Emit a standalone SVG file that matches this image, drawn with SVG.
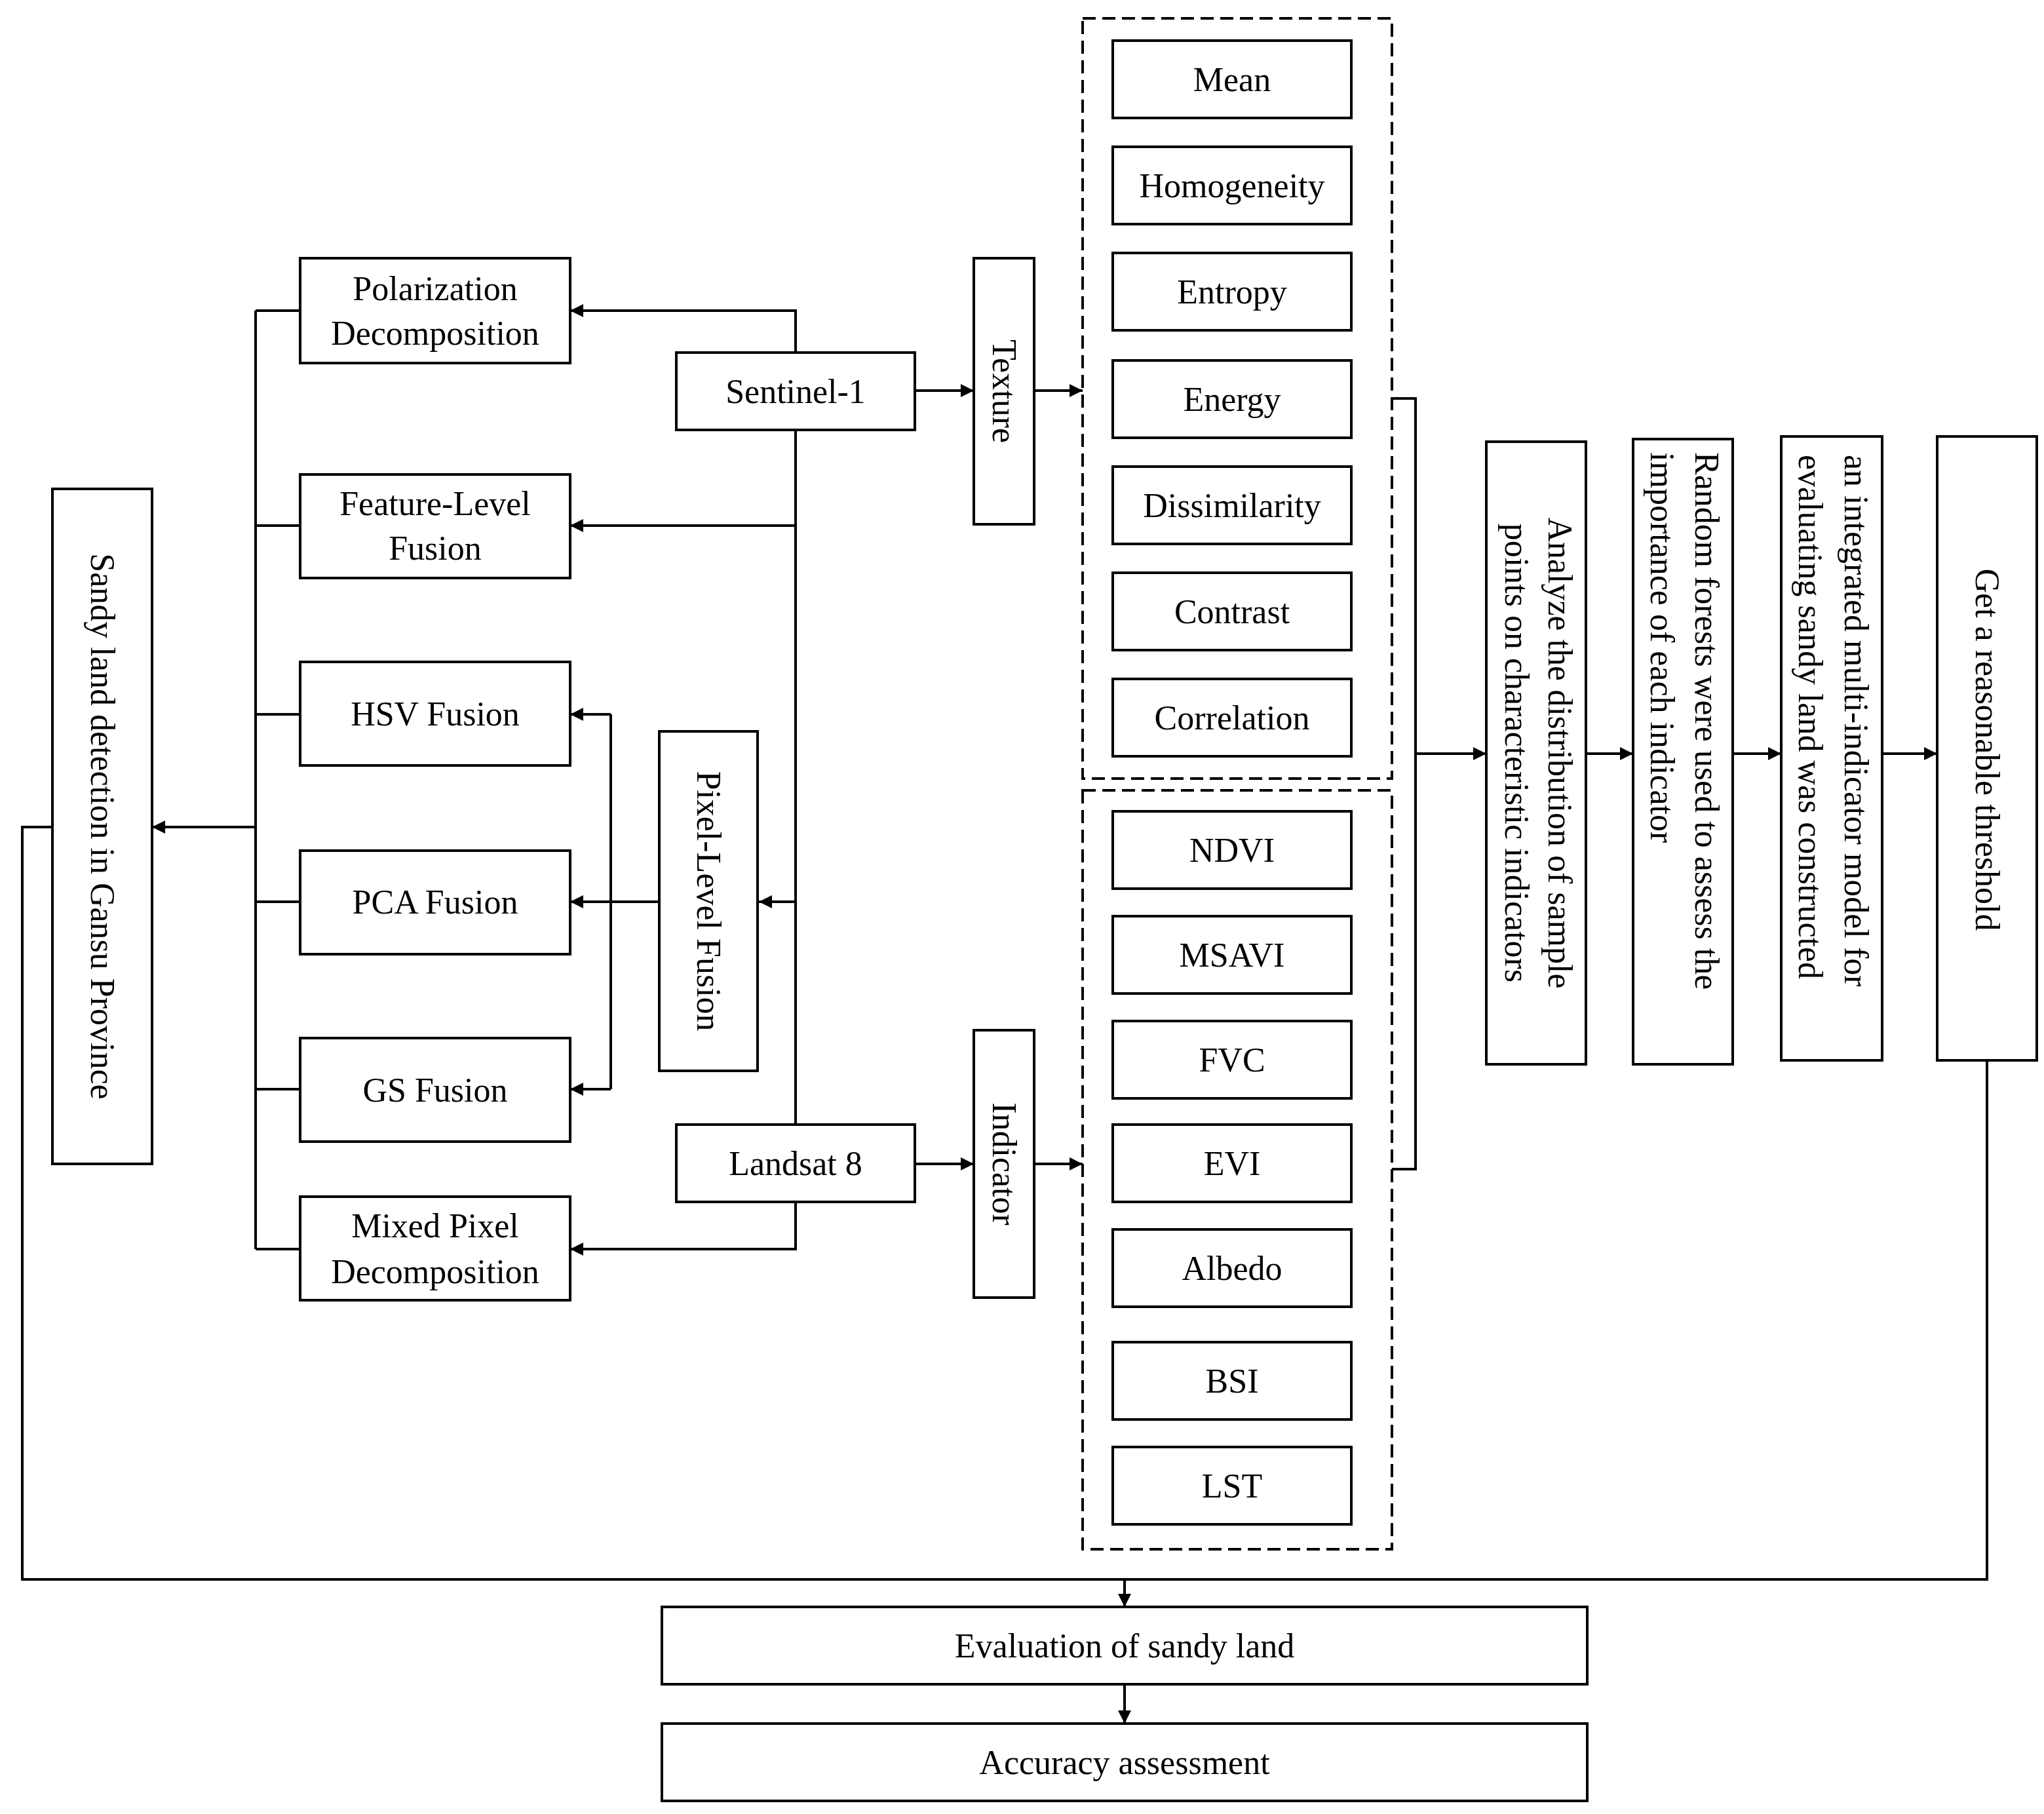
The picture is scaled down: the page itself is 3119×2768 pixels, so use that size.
<svg xmlns="http://www.w3.org/2000/svg" width="3119" height="2768" viewBox="0 0 3119 2768">
<style>
.b{fill:#fff;stroke:#000;stroke-width:4}
.d{fill:none;stroke:#000;stroke-width:4;stroke-dasharray:20,10}
.l{fill:none;stroke:#000;stroke-width:4}
text{font-family:"Liberation Serif","Times New Roman",serif;font-size:52px;fill:#000}
.c{text-anchor:middle;dominant-baseline:central}
.s{text-anchor:start;dominant-baseline:central}
</style>
<defs><marker id="a" viewBox="0 0 10 10" refX="10" refY="5" markerWidth="5" markerHeight="5" orient="auto" markerUnits="strokeWidth"><path d="M0,0L10,5L0,10z" fill="#000"/></marker></defs>
<rect width="3119" height="2768" fill="#fff"/>
<g id="dashed">
<rect class="d" x="1652" y="28" width="472" height="1160"/>
<rect class="d" x="1652" y="1206" width="472" height="1158"/>
</g>
<g id="connectors">
<path class="l" d="M390,474V1906M390,474H458M390,802H458M390,1090H458M390,1376H458M390,1662H458M390,1906H458"/>
<path class="l" d="M390,1262H232" marker-end="url(#a)"/>
<path class="l" d="M1214,538V474H870" marker-end="url(#a)"/>
<path class="l" d="M1214,656V1716"/>
<path class="l" d="M1214,802H870" marker-end="url(#a)"/>
<path class="l" d="M1214,1376H1158" marker-end="url(#a)"/>
<path class="l" d="M1214,1834V1906H870" marker-end="url(#a)"/>
<path class="l" d="M1006,1376H870" marker-end="url(#a)"/>
<path class="l" d="M932,1090V1662"/>
<path class="l" d="M932,1090H870" marker-end="url(#a)"/>
<path class="l" d="M932,1662H870" marker-end="url(#a)"/>
<path class="l" d="M1396,596H1486" marker-end="url(#a)"/>
<path class="l" d="M1578,596H1652" marker-end="url(#a)"/>
<path class="l" d="M1396,1776H1486" marker-end="url(#a)"/>
<path class="l" d="M1578,1776H1652" marker-end="url(#a)"/>
<path class="l" d="M2124,608H2160V1784H2124"/>
<path class="l" d="M2160,1150H2268" marker-end="url(#a)"/>
<path class="l" d="M2420,1150H2492" marker-end="url(#a)"/>
<path class="l" d="M2644,1150H2718" marker-end="url(#a)"/>
<path class="l" d="M2872,1150H2956" marker-end="url(#a)"/>
<path class="l" d="M3032,1618V2410H34V1262H80"/>
<path class="l" d="M1716,2410V2452" marker-end="url(#a)"/>
<path class="l" d="M1716,2570V2630" marker-end="url(#a)"/>
</g>
<g id="sandy"><rect class="b" x="80" y="746" width="152" height="1030"/><text class="c" transform="rotate(90 156 1261)" x="156" y="1261">Sandy land detection in Gansu Province</text></g>
<g id="polar"><rect class="b" x="458" y="394" width="412" height="160"/><text class="c" x="664" y="440">Polarization</text><text class="c" x="664" y="508">Decomposition</text></g>
<g id="feature"><rect class="b" x="458" y="724" width="412" height="158"/><text class="c" x="664" y="768">Feature-Level</text><text class="c" x="664" y="836">Fusion</text></g>
<g id="hsv"><rect class="b" x="458" y="1010" width="412" height="158"/><text class="c" x="664" y="1089">HSV Fusion</text></g>
<g id="pca"><rect class="b" x="458" y="1298" width="412" height="158"/><text class="c" x="664" y="1376">PCA Fusion</text></g>
<g id="gs"><rect class="b" x="458" y="1584" width="412" height="158"/><text class="c" x="664" y="1663">GS Fusion</text></g>
<g id="mixed"><rect class="b" x="458" y="1826" width="412" height="158"/><text class="c" x="664" y="1870">Mixed Pixel</text><text class="c" x="664" y="1940">Decomposition</text></g>
<g id="sentinel"><rect class="b" x="1032" y="538" width="364" height="118"/><text class="c" x="1214" y="597">Sentinel-1</text></g>
<g id="landsat"><rect class="b" x="1032" y="1716" width="364" height="118"/><text class="c" x="1214" y="1775">Landsat 8</text></g>
<g id="pixel"><rect class="b" x="1006" y="1116" width="150" height="518"/><text class="c" transform="rotate(90 1081 1375)" x="1081" y="1375">Pixel-Level Fusion</text></g>
<g id="texture"><rect class="b" x="1486" y="394" width="92" height="406"/><text class="c" transform="rotate(90 1532 597)" x="1532" y="597">Texture</text></g>
<g id="indicator"><rect class="b" x="1486" y="1572" width="92" height="408"/><text class="c" transform="rotate(90 1532 1776)" x="1532" y="1776">Indicator</text></g>
<g id="mean"><rect class="b" x="1698" y="62" width="364" height="118"/><text class="c" x="1880" y="121">Mean</text></g>
<g id="homo"><rect class="b" x="1698" y="224" width="364" height="118"/><text class="c" x="1880" y="283">Homogeneity</text></g>
<g id="entropy"><rect class="b" x="1698" y="386" width="364" height="118"/><text class="c" x="1880" y="445">Entropy</text></g>
<g id="energy"><rect class="b" x="1698" y="550" width="364" height="118"/><text class="c" x="1880" y="609">Energy</text></g>
<g id="dissim"><rect class="b" x="1698" y="712" width="364" height="118"/><text class="c" x="1880" y="771">Dissimilarity</text></g>
<g id="contrast"><rect class="b" x="1698" y="874" width="364" height="118"/><text class="c" x="1880" y="933">Contrast</text></g>
<g id="corr"><rect class="b" x="1698" y="1036" width="364" height="118"/><text class="c" x="1880" y="1095">Correlation</text></g>
<g id="ndvi"><rect class="b" x="1698" y="1238" width="364" height="118"/><text class="c" x="1880" y="1297">NDVI</text></g>
<g id="msavi"><rect class="b" x="1698" y="1398" width="364" height="118"/><text class="c" x="1880" y="1457">MSAVI</text></g>
<g id="fvc"><rect class="b" x="1698" y="1558" width="364" height="118"/><text class="c" x="1880" y="1617">FVC</text></g>
<g id="evi"><rect class="b" x="1698" y="1716" width="364" height="118"/><text class="c" x="1880" y="1775">EVI</text></g>
<g id="albedo"><rect class="b" x="1698" y="1876" width="364" height="118"/><text class="c" x="1880" y="1935">Albedo</text></g>
<g id="bsi"><rect class="b" x="1698" y="2048" width="364" height="118"/><text class="c" x="1880" y="2107">BSI</text></g>
<g id="lst"><rect class="b" x="1698" y="2208" width="364" height="118"/><text class="c" x="1880" y="2267">LST</text></g>
<g id="analyze"><rect class="b" x="2268" y="674" width="152" height="950"/><text class="c" transform="rotate(90 2380 1149)" x="2380" y="1149">Analyze the distribution of sample</text><text class="c" transform="rotate(90 2314 1149)" x="2314" y="1149">points on characteristic indicators</text></g>
<g id="random"><rect class="b" x="2492" y="670" width="152" height="954"/><text class="s" transform="rotate(90 2604 690)" x="2604" y="690">Random forests were used to assess the</text><text class="s" transform="rotate(90 2536 690)" x="2536" y="690">importance of each indicator</text></g>
<g id="model"><rect class="b" x="2718" y="666" width="154" height="952"/><text class="s" transform="rotate(90 2832 694)" x="2832" y="694">an integrated multi-indicator model for</text><text class="s" transform="rotate(90 2762 694)" x="2762" y="694">evaluating sandy land was constructed</text></g>
<g id="threshold"><rect class="b" x="2956" y="666" width="152" height="952"/><text class="c" transform="rotate(90 3032 1144)" x="3032" y="1144">Get a reasonable threshold</text></g>
<g id="evaluation"><rect class="b" x="1010" y="2452" width="1412" height="118"/><text class="c" x="1716" y="2511">Evaluation of sandy land</text></g>
<g id="accuracy"><rect class="b" x="1010" y="2630" width="1412" height="118"/><text class="c" x="1716" y="2689">Accuracy assessment</text></g>
</svg>
